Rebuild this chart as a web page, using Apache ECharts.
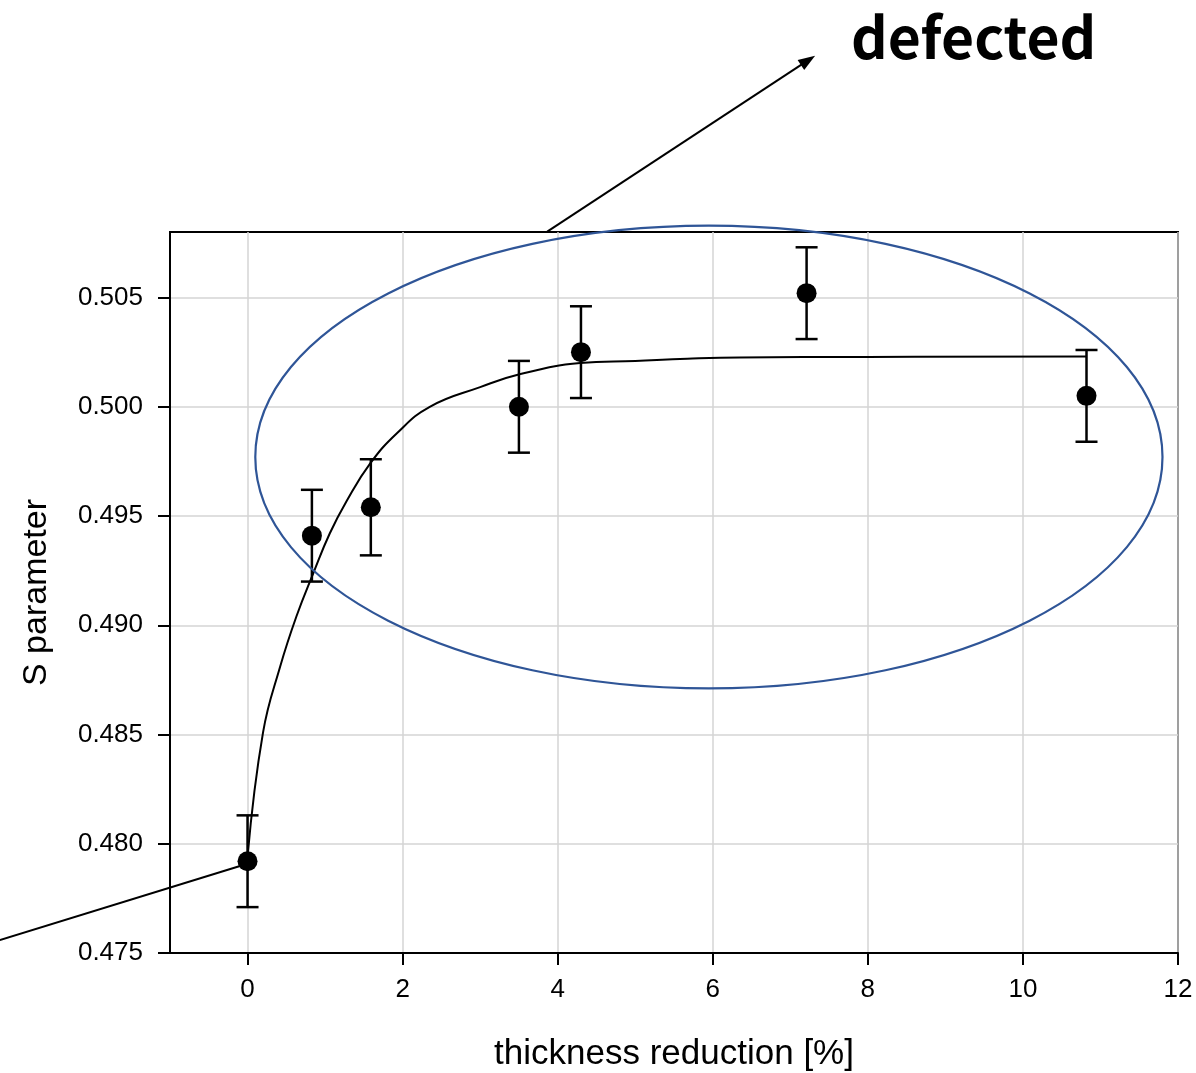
<!DOCTYPE html>
<html>
<head>
<meta charset="utf-8">
<script src="https://cdn.jsdelivr.net/npm/echarts@6/dist/echarts.min.js"></script>
<style>
  html, body { margin: 0; padding: 0; background: #fff; }
  #chart { width: 1196px; height: 1073px; }
</style>
</head>
<body>
<div id="chart"></div>
<script>
// measured points (thickness reduction %, S parameter, error)
const xVals = [0, 0.83, 1.59, 3.5, 4.3, 7.21, 10.82];
const sVals = [0.4792, 0.4941, 0.4954, 0.5000, 0.5025, 0.5052, 0.5005];
const sErr = [0.0021, 0.0021, 0.0022, 0.0021, 0.0021, 0.0021, 0.0021];

// fitted curve
const fitX = [0, 0.2, 0.42, 0.63, 0.85, 1.06, 1.28, 1.58, 1.93, 2.35, 3.0, 3.52, 4.29, 5.0, 5.67, 6.35, 8, 10.82];
const fitY = [0.4794, 0.4851, 0.4881, 0.4904, 0.4924, 0.4942, 0.4957, 0.4974, 0.4988, 0.5000, 0.5009, 0.5015, 0.5020, 0.5021, 0.5022, 0.50226, 0.50228, 0.5023];

// tick labels
const xTicks = [0, 2, 4, 6, 8, 10, 12];
const yTicks = [0.475, 0.48, 0.485, 0.49, 0.495, 0.5, 0.505];

// annotations (data units)
const ellipseCenter = [5.95, 0.4977];
const ellipseRadius = [5.85, 0.01059];
const arrowFrom = [3.865, 0.50802];
const arrowTo = [7.32, 0.51607];
const pointerFrom = [-3.194, 0.47559];
const pointerTo = [-0.097, 0.47898];

const chart = echarts.init(document.getElementById("chart"));
const axisFont = "Liberation Sans, Arial, sans-serif";

const option = {
  animation: false,
  grid: {
    left: 170,
    right: 18,
    top: 232,
    bottom: 120,
    outerBoundsMode: "none",
    show: true,
    borderColor: "#000",
    borderWidth: 2
  },
  xAxis: {
    type: "value",
    min: -1,
    max: 12,
    name: "thickness reduction [%]",
    nameLocation: "middle",
    nameGap: 84,
    nameTextStyle: { fontSize: 35, color: "#000", fontFamily: axisFont },
    axisLine: { onZero: false, lineStyle: { color: "#000", width: 2 } },
    axisTick: {
      customValues: xTicks,
      length: 12,
      lineStyle: { color: "#000", width: 2 }
    },
    axisLabel: {
      customValues: xTicks,
      margin: 24,
      fontSize: 26,
      color: "#000",
      fontFamily: axisFont
    },
    splitLine: { show: true, lineStyle: { color: "#d4d4d4", width: 1.5 } }
  },
  yAxis: {
    type: "value",
    min: 0.475,
    max: 0.508,
    name: "S parameter",
    nameLocation: "middle",
    nameGap: 116,
    nameTextStyle: { fontSize: 34, color: "#000", fontFamily: axisFont },
    axisLine: { show: true, onZero: false, lineStyle: { color: "#000", width: 2 } },
    axisTick: {
      show: true,
      customValues: yTicks,
      length: 12,
      lineStyle: { color: "#000", width: 2 }
    },
    axisLabel: {
      customValues: yTicks,
      margin: 27,
      fontSize: 26,
      color: "#000",
      fontFamily: axisFont,
      formatter: function (v) { return v.toFixed(3); }
    },
    splitLine: { show: true, lineStyle: { color: "#d4d4d4", width: 1.5 } }
  },
  graphic: [
    {
      type: "text",
      style: {
        x: 851,
        y: 37,
        text: "defected",
        fill: "#000",
        font: "bold 57px 'Noto Sans CJK KR', 'Noto Sans', sans-serif",
        verticalAlign: "middle"
      }
    }
  ],
  series: [
    {
      // fitted curve
      type: "line",
      data: fitX.map((x, i) => [x, fitY[i]]),
      smooth: 0.45,
      symbol: "none",
      lineStyle: { color: "#000", width: 2 },
      z: 2
    },
    {
      // error bars
      type: "custom",
      data: xVals.map((x, i) => [x, sVals[i], sErr[i]]),
      renderItem: function (params, api) {
        const x = api.value(0);
        const y = api.value(1);
        const e = api.value(2);
        const hi = api.coord([x, y + e]);
        const lo = api.coord([x, y - e]);
        const cap = 11;
        const st = { stroke: "#000", lineWidth: 2.5 };
        return {
          type: "group",
          children: [
            { type: "line", shape: { x1: hi[0], y1: hi[1], x2: lo[0], y2: lo[1] }, style: st },
            { type: "line", shape: { x1: hi[0] - cap, y1: hi[1], x2: hi[0] + cap, y2: hi[1] }, style: st },
            { type: "line", shape: { x1: lo[0] - cap, y1: lo[1], x2: lo[0] + cap, y2: lo[1] }, style: st }
          ]
        };
      },
      z: 3
    },
    {
      // points
      type: "scatter",
      data: xVals.map((x, i) => [x, sVals[i]]),
      symbol: "circle",
      symbolSize: 20,
      itemStyle: { color: "#000", opacity: 1 },
      z: 4
    },
    {
      // ellipse and arrows
      type: "custom",
      clip: false,
      silent: true,
      data: [[0, 0]],
      renderItem: function (params, api) {
        const c = api.coord(ellipseCenter);
        const r = api.size(ellipseRadius);
        const a0 = api.coord(arrowFrom);
        const a1 = api.coord(arrowTo);
        const p0 = api.coord(pointerFrom);
        const p1 = api.coord(pointerTo);
        const dx = a1[0] - a0[0];
        const dy = a1[1] - a0[1];
        const len = Math.sqrt(dx * dx + dy * dy);
        const ux = dx / len, uy = dy / len;
        const hl = 17, hw = 6;
        const bx = a1[0] - ux * hl, by = a1[1] - uy * hl;
        return {
          type: "group",
          children: [
            {
              type: "ellipse",
              shape: { cx: c[0], cy: c[1], rx: r[0], ry: r[1] },
              style: { fill: "none", stroke: "#2f5597", lineWidth: 2.2 }
            },
            {
              type: "line",
              shape: { x1: a0[0], y1: a0[1], x2: bx + ux * 2, y2: by + uy * 2 },
              style: { stroke: "#000", lineWidth: 2 }
            },
            {
              type: "polygon",
              shape: { points: [[a1[0], a1[1]], [bx - uy * hw, by + ux * hw], [bx + uy * hw, by - ux * hw]] },
              style: { fill: "#000" }
            },
            {
              type: "line",
              shape: { x1: p0[0], y1: p0[1], x2: p1[0], y2: p1[1] },
              style: { stroke: "#000", lineWidth: 2 }
            }
          ]
        };
      },
      z: 5
    }
  ]
};
chart.setOption(option);
</script>
</body>
</html>
